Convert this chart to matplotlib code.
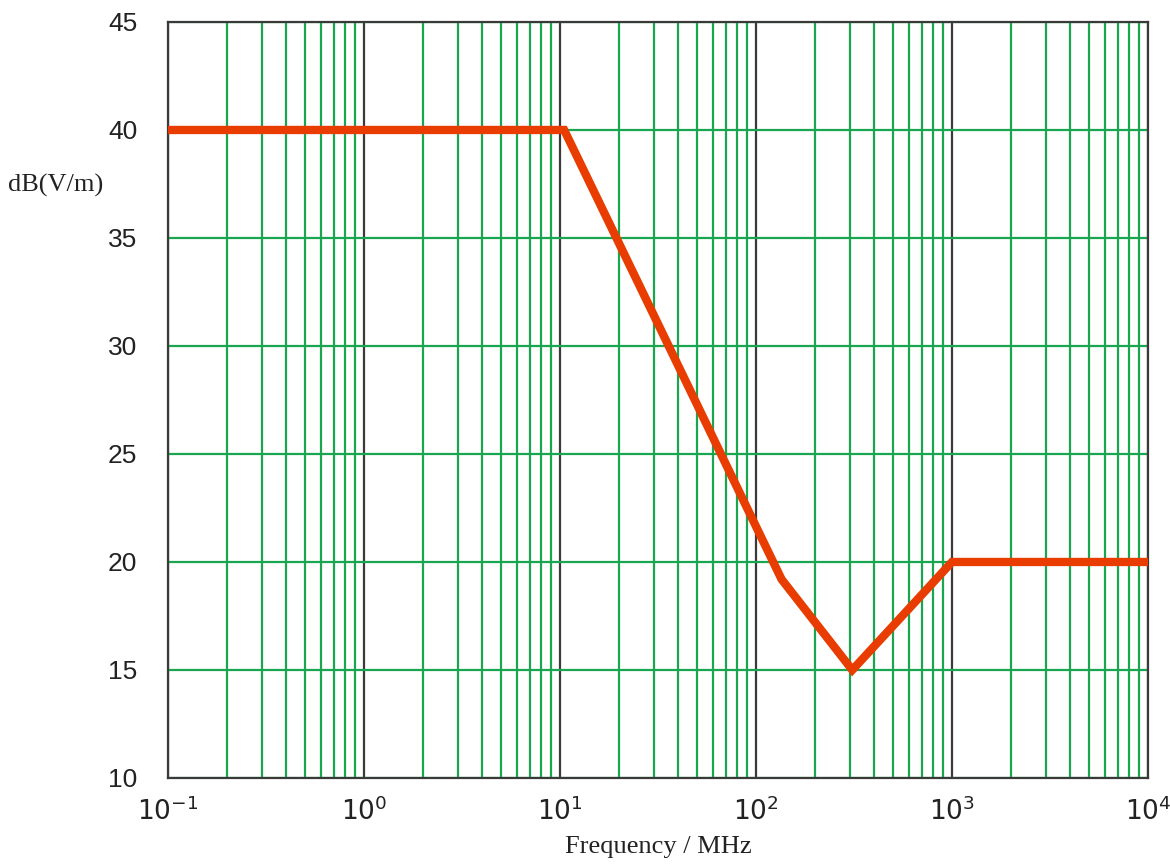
import matplotlib
matplotlib.use("Agg")
import numpy as np
import matplotlib.pyplot as plt
from matplotlib.ticker import LogLocator, FuncFormatter, NullFormatter

# limit curve
freq_mhz = [0.1, 10.5, 135, 310, 1000, 10000]
level_db = [40, 40, 19.2, 15, 20, 20]

y_ticks = [10, 15, 20, 25, 30, 35, 40, 45]

plt.rcParams['mathtext.fontset'] = 'custom'
plt.rcParams['mathtext.rm'] = 'Liberation Sans'
plt.rcParams['mathtext.it'] = 'Liberation Sans'


def dec_label(v, pos):
    e = int(round(np.log10(v)))
    return r'$\mathregular{10^{%d}}$' % e


fig = plt.figure(figsize=(11.7, 8.65), dpi=100)
ax = fig.add_axes([0.1436, 0.1006, 0.9812 - 0.1436, 0.9746 - 0.1006])

ax.set_xscale('log')
ax.set_xlim(0.1, 10000)
ax.set_ylim(10, 45)

ax.xaxis.set_major_locator(LogLocator(base=10, numticks=10))
ax.xaxis.set_minor_locator(LogLocator(base=10, subs=range(2, 10), numticks=20))
ax.xaxis.set_major_formatter(FuncFormatter(dec_label))
ax.xaxis.set_minor_formatter(NullFormatter())
ax.set_yticks(y_ticks)

# grid: green minor decades, dark decade lines, green horizontals
ax.grid(which='minor', axis='x', color='#1aa650', lw=1.6)
ax.grid(which='major', axis='x', color='#3a3a3a', lw=1.6)
ax.grid(which='major', axis='y', color='#1aa650', lw=1.6)
ax.set_axisbelow(True)

ax.plot(freq_mhz, level_db, color='#e83c00', lw=6, solid_joinstyle='miter', zorder=3)

for s in ax.spines.values():
    s.set_color('#3a3a3a')
    s.set_linewidth(1.6)

ax.tick_params(which='both', length=0)
ax.tick_params(axis='y', pad=22, labelsize=19, labelcolor='#222222')
ax.tick_params(axis='x', pad=14, labelsize=19, labelcolor='#222222')
for lbl in ax.get_yticklabels():
    lbl.set_family('Liberation Sans')

fig.text(0.5624, 1 - 847 / 865, 'Frequency / MHz', family='Liberation Serif', fontsize=19,
         ha='center', va='center', color='#222222')
fig.text(0.007, 1 - 185 / 865, 'dB(V/m)', family='Liberation Serif', fontsize=19,
         ha='left', va='center', color='#222222')

fig.savefig('out.png', dpi=100)
